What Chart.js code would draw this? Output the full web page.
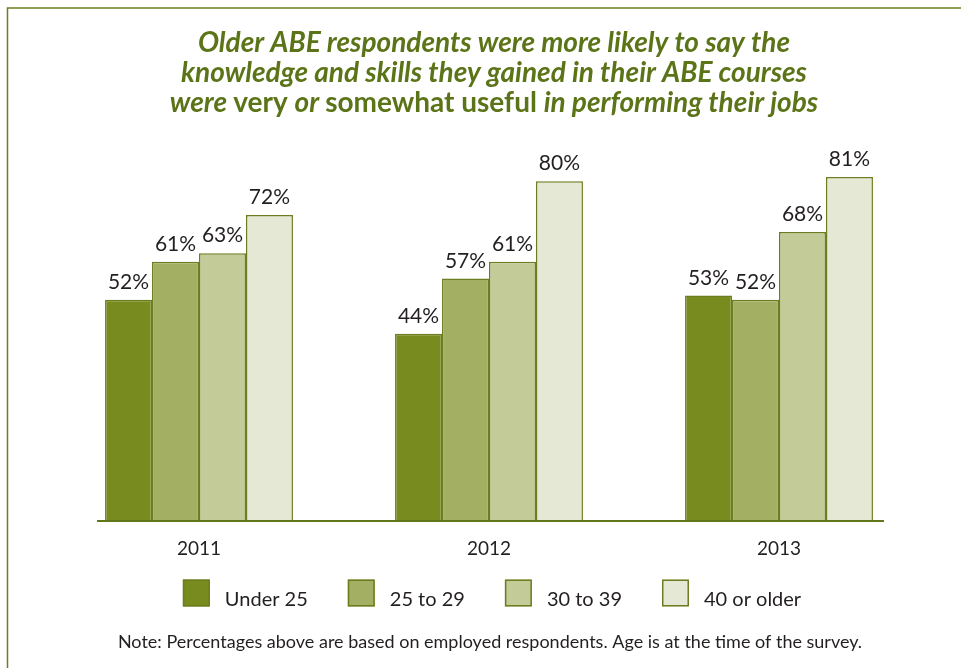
<!DOCTYPE html>
<html>
<head>
<meta charset="utf-8">
<script src="https://cdn.jsdelivr.net/npm/chart.js@4.4.1/dist/chart.umd.min.js"></script>
<style>
  html, body { margin: 0; padding: 0; background: #fff; }
  canvas { display: block; }
</style>
</head>
<body>
<canvas id="c" width="961" height="668"></canvas>
<script>
// Survey years and age groups
const years = ['2011', '2012', '2013'];
const ageGroups = ['Under 25', '25 to 29', '30 to 39', '40 or older'];

// Share (%) saying ABE skills were very or somewhat useful on the job
const under25   = [52, 44, 53];
const age25to29 = [61, 57, 52];
const age30to39 = [63, 61, 68];
const age40plus = [72, 80, 81];

const fills = ['#788b1e', '#a3b064', '#c3cb98', '#e5e8d4'];
const edge = '#6a7e1f';
const olive = '#5c7418';
const ink = '#231f20';
const bodyFont = 'Lato, "Open Sans", sans-serif';

const titleLines = [
  [['Older ABE respondents were more likely to say the', true]],
  [['knowledge and skills they gained in their ABE courses', true]],
  [['were ', true], ['very ', false], ['or ', true], ['somewhat useful ', false], ['in performing their jobs', true]]
];
const note = 'Note: Percentages above are based on employed respondents. Age is at the time of the survey.';

// Page frame (top and left rules)
const framePlugin = {
  id: 'frame',
  beforeDraw(chart) {
    const ctx = chart.ctx;
    ctx.save();
    ctx.fillStyle = '#fff';
    ctx.fillRect(0, 0, chart.width, chart.height);
    ctx.strokeStyle = '#6a8023';
    ctx.lineWidth = 1.5;
    ctx.beginPath();
    ctx.moveTo(7.5, chart.height);
    ctx.lineTo(7.5, 8);
    ctx.lineTo(chart.width, 8);
    ctx.stroke();
    ctx.restore();
  }
};

// Three-line headline with mixed italic / upright runs
const titlePlugin = {
  id: 'headline',
  afterDraw(chart) {
    const ctx = chart.ctx;
    const size = 28;
    const fontFor = (it) => (it ? 'italic ' : '') + 'bold ' + size + 'px ' + bodyFont;
    ctx.save();
    ctx.fillStyle = olive;
    ctx.textBaseline = 'alphabetic';
    ctx.textAlign = 'left';
    titleLines.forEach((runs, i) => {
      let total = 0;
      runs.forEach(([t, it]) => { ctx.font = fontFor(it); total += ctx.measureText(t).width; });
      let x = 494 - total / 2;
      const y = 52 + i * 30;
      runs.forEach(([t, it]) => {
        ctx.font = fontFor(it);
        ctx.fillText(t, x, y);
        x += ctx.measureText(t).width;
      });
    });
    ctx.restore();
  }
};

// Baseline under the bars, value labels above each bar
const barExtras = {
  id: 'barExtras',
  afterDatasetsDraw(chart) {
    const ctx = chart.ctx;
    const metas = chart.data.datasets.map((d, i) => chart.getDatasetMeta(i));
    const first = metas[0].data[0];
    const lastMeta = metas[metas.length - 1];
    const last = lastMeta.data[lastMeta.data.length - 1];
    const y0 = chart.scales.y.getPixelForValue(0);
    ctx.save();
    ctx.strokeStyle = '#5f7719';
    ctx.lineWidth = 2;
    ctx.beginPath();
    ctx.moveTo(first.x - first.width / 2 - 8, y0 + 1);
    ctx.lineTo(last.x + last.width / 2 + 11, y0 + 1);
    ctx.stroke();

    ctx.fillStyle = ink;
    ctx.font = '21px ' + bodyFont;
    ctx.textAlign = 'center';
    ctx.textBaseline = 'alphabetic';
    chart.data.datasets.forEach((ds, i) => {
      metas[i].data.forEach((bar, j) => {
        ctx.fillText(ds.data[j] + '%', bar.x, bar.y - 11);
      });
    });
    ctx.restore();
  }
};

// Legend row and footnote
const legendPlugin = {
  id: 'legendRow',
  afterDraw(chart) {
    const ctx = chart.ctx;
    const box = 27, gap = 15, spacing = 40, top = 579.5;
    ctx.save();
    ctx.font = '20px ' + bodyFont;
    const items = chart.data.datasets.map(ds => ({
      label: ds.label, fill: ds.backgroundColor, w: ctx.measureText(ds.label).width
    }));
    const total = items.reduce((s, it) => s + box + gap + it.w, 0) + spacing * (items.length - 1);
    let x = 492 - total / 2;
    items.forEach(it => {
      ctx.fillStyle = it.fill;
      ctx.fillRect(x, top, box, box);
      ctx.strokeStyle = edge;
      ctx.lineWidth = 1.5;
      ctx.strokeRect(x + 0.75, top + 0.75, box - 1.5, box - 1.5);
      ctx.fillStyle = ink;
      ctx.textBaseline = 'alphabetic';
      ctx.fillText(it.label, x + box + gap, top + box - 1);
      x += box + gap + it.w + spacing;
    });
    ctx.font = '18px ' + bodyFont;
    ctx.textAlign = 'center';
    ctx.fillStyle = ink;
    ctx.fillText(note, 490, 648);
    ctx.restore();
  }
};

const series = [under25, age25to29, age30to39, age40plus];

new Chart(document.getElementById('c'), {
  type: 'bar',
  data: {
    labels: years,
    datasets: series.map((vals, i) => ({
      label: ageGroups[i],
      data: vals,
      backgroundColor: fills[i],
      borderColor: edge,
      borderWidth: { top: 1.5, left: 1.5, right: 1.5, bottom: 0 },
      borderSkipped: 'start',
      categoryPercentage: 0.648,
      barPercentage: 1
    }))
  },
  options: {
    responsive: false,
    animation: false,
    layout: { padding: { left: 54, right: 37, top: 96.5, bottom: 108 } },
    plugins: {
      legend: { display: false },
      title: { display: false },
      tooltip: { enabled: false }
    },
    scales: {
      x: {
        grid: { display: false, drawTicks: false },
        border: { display: false },
        ticks: { color: ink, font: { family: bodyFont, size: 19 }, padding: 17 },
        afterFit(scale) { scale.height = 40; }
      },
      y: {
        display: false,
        min: 0,
        max: 100
      }
    }
  },
  plugins: [framePlugin, titlePlugin, barExtras, legendPlugin]
});
</script>
</body>
</html>
